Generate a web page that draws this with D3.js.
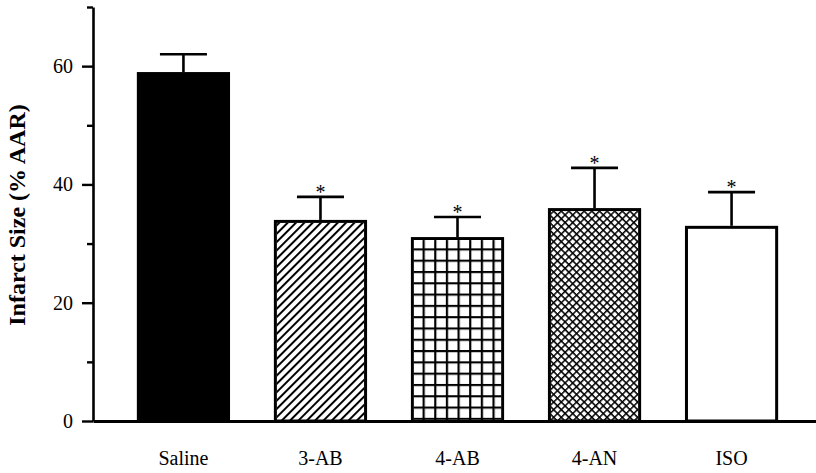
<!DOCTYPE html>
<html>
<head>
<meta charset="utf-8">
<script src="https://cdn.jsdelivr.net/npm/d3@7"></script>
<style>
  html, body { margin: 0; padding: 0; background: #fff; }
  svg { display: block; font-family: "Liberation Serif", "Times New Roman", serif; }
</style>
</head>
<body>
<div id="chart"></div>
<script>
// data
const groups = ['Saline', '3-AB', '4-AB', '4-AN', 'ISO'];
const means = [59, 34, 31.1, 36, 33];
const sems = [3, 3.9, 3.4, 6.8, 5.7];
const marked = [false, true, true, true, true];
const majorTicks = [0, 20, 40, 60];
const minorTicks = [10, 30, 50, 70];

const width = 816, height = 473;
const margin = { top: 7, left: 93, bottom: 52 };

const svg = d3.select('#chart').append('svg')
    .attr('width', width)
    .attr('height', height);

// fill patterns
const defs = svg.append('defs');

const x = d3.scaleBand()
    .domain(groups)
    .range([margin.left, 822])
    .paddingInner(0.32)
    .paddingOuter(0.32);

const y = d3.scaleLinear()
    .domain([0, 70])
    .range([height - margin.bottom, margin.top]);

const diag = defs.append('pattern')
    .attr('id', 'p-diag')
    .attr('patternUnits', 'userSpaceOnUse')
    .attr('width', 5.9).attr('height', 20)
    .attr('patternTransform', 'rotate(45)');
diag.append('line')
    .attr('x1', 1).attr('y1', 0).attr('x2', 1).attr('y2', 20)
    .attr('stroke', '#000').attr('stroke-width', 2);

const cell = x.bandwidth() / 8;
const grid = defs.append('pattern')
    .attr('id', 'p-grid')
    .attr('patternUnits', 'userSpaceOnUse')
    .attr('x', x('4-AB')).attr('y', y(means[2]))
    .attr('width', cell).attr('height', cell * 0.97);
grid.append('rect')
    .attr('width', cell).attr('height', cell)
    .attr('fill', '#fff');
grid.append('path')
    .attr('d', `M0,0V${cell}M0,0H${cell}`)
    .attr('stroke', '#000').attr('stroke-width', 4.4);

const cross = defs.append('pattern')
    .attr('id', 'p-cross')
    .attr('patternUnits', 'userSpaceOnUse')
    .attr('width', 5.4).attr('height', 5.4)
    .attr('patternTransform', 'rotate(45)');
cross.append('path')
    .attr('d', 'M0,0V5.4M0,0H5.4')
    .attr('stroke', '#000').attr('stroke-width', 3);

const fillFor = {
    'Saline': '#000',
    '3-AB': 'url(#p-diag)',
    '4-AB': 'url(#p-grid)',
    '4-AN': 'url(#p-cross)',
    'ISO': '#fff'
};

const rows = groups.map((g, i) => ({ g, mean: means[i], sem: sems[i], star: marked[i] }));

// bars
const sw = 3;
svg.append('g').selectAll('rect')
    .data(rows)
    .join('rect')
    .attr('x', d => x(d.g) + sw / 2)
    .attr('y', d => y(d.mean) + sw / 2)
    .attr('width', x.bandwidth() - sw)
    .attr('height', d => y(0) - y(d.mean) - sw / 2)
    .attr('fill', d => fillFor[d.g] === '#000' ? '#000' : '#fff')
    .attr('stroke', '#000')
    .attr('stroke-width', sw);

svg.append('g').selectAll('rect')
    .data(rows.filter(d => fillFor[d.g].startsWith('url')))
    .join('rect')
    .attr('x', d => x(d.g) + sw)
    .attr('y', d => y(d.mean) + sw)
    .attr('width', x.bandwidth() - 2 * sw)
    .attr('height', d => y(0) - y(d.mean) - sw)
    .attr('fill', d => fillFor[d.g]);

// error bars (upper only)
const capW = 47;
const err = svg.append('g')
    .attr('stroke', '#000')
    .attr('stroke-width', 2.6);
err.selectAll('line.stem')
    .data(rows)
    .join('line')
    .attr('class', 'stem')
    .attr('x1', d => x(d.g) + x.bandwidth() / 2)
    .attr('x2', d => x(d.g) + x.bandwidth() / 2)
    .attr('y1', d => y(d.mean))
    .attr('y2', d => y(d.mean + d.sem));
err.selectAll('line.cap')
    .data(rows)
    .join('line')
    .attr('class', 'cap')
    .attr('x1', d => x(d.g) + x.bandwidth() / 2 - capW / 2)
    .attr('x2', d => x(d.g) + x.bandwidth() / 2 + capW / 2)
    .attr('y1', d => y(d.mean + d.sem))
    .attr('y2', d => y(d.mean + d.sem));

// significance stars
svg.append('g').selectAll('text')
    .data(rows.filter(d => d.star))
    .join('text')
    .attr('x', d => x(d.g) + x.bandwidth() / 2)
    .attr('y', d => y(d.mean + d.sem) + 2)
    .attr('text-anchor', 'middle')
    .style('font-size', '20px')
    .text('*');

// axes
const yMajor = svg.append('g')
    .attr('transform', `translate(${margin.left},0)`)
    .call(d3.axisLeft(y).tickValues(majorTicks).tickSize(11).tickSizeOuter(0).tickPadding(9).tickFormat(d3.format('d')));
const yMinor = svg.append('g')
    .attr('transform', `translate(${margin.left},0)`)
    .call(d3.axisLeft(y).tickValues(minorTicks).tickSize(6).tickSizeOuter(0).tickFormat(''));
[yMajor, yMinor].forEach(g => {
    g.select('.domain').attr('stroke-width', 2.6);
    g.selectAll('.tick line').attr('stroke-width', 2.4);
});
yMinor.select('.domain').remove();
yMajor.selectAll('text')
    .style('font-size', '20px')
    .style('font-family', '"Liberation Serif", serif')
    .attr('fill', '#000');

const xAxis = svg.append('g')
    .attr('transform', `translate(0,${y(0)})`)
    .call(d3.axisBottom(x).tickSize(0).tickSizeOuter(0).tickPadding(30));
xAxis.select('.domain').attr('stroke-width', 3);
xAxis.selectAll('text')
    .style('font-size', '20px')
    .style('font-family', '"Liberation Serif", serif')
    .attr('fill', '#000');

// y title
svg.append('text')
    .attr('transform', 'rotate(-90)')
    .attr('x', -215)
    .attr('y', 25)
    .attr('text-anchor', 'middle')
    .style('font-size', '24px')
    .style('font-weight', 'bold')
    .text('Infarct Size (% AAR)');
</script>
</body>
</html>
